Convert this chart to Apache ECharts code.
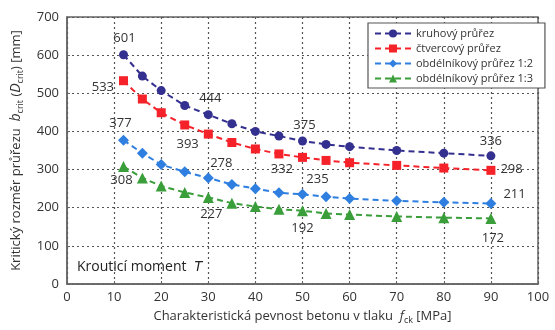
<!DOCTYPE html>
<html>
<head>
<meta charset="utf-8">
<script src="https://cdn.jsdelivr.net/npm/echarts@6/dist/echarts.min.js"></script>
<style>
  html, body { margin: 0; padding: 0; background: #fff; }
  #chart { width: 555px; height: 330px; }
</style>
</head>
<body>
<div id="chart"></div>
<script>
var fck = [12, 16, 20, 25, 30, 35, 40, 45, 50, 55, 60, 70, 80, 90];
var kruhovy = [601, 545, 507, 468, 444, 420, 400, 388, 375, 366, 360, 350, 343, 336];
var ctvercovy = [533, 485, 449, 417, 393, 371, 354, 341, 332, 324, 318, 311, 304, 298];
var obdelnik12 = [377, 343, 313, 294, 278, 261, 250, 239, 235, 229, 224, 218, 214, 211];
var obdelnik13 = [308, 278, 257, 240, 227, 212, 203, 196, 192, 185, 182, 177, 174, 172];
var nazvy = ['kruhový průřez', 'čtvercový průřez', 'obdélníkový průřez 1:2', 'obdélníkový průřez 1:3'];

var chartDom = document.getElementById('chart');
var myChart = echarts.init(chartDom);

// popisky jen u vybraných bodů (index -> pozice, posun)
var popisky = [
    { 0: ['top', [1, 0]], 4: ['top', [2, 0]], 8: ['top', [2, 0]], 13: ['top', [0, 1]] },
    { 0: ['left', [0, 7]], 4: ['left', [0, 10]], 8: ['left', [0, 12]], 13: ['right', [0, -1]] },
    { 0: ['top', [-3, 0]], 4: ['top', [13, 2]], 8: ['top', [15, 2]], 13: ['right', [2, -9]] },
    { 0: ['bottom', [-2, -3]], 4: ['bottom', [3, 0]], 8: ['bottom', [0, 1]], 13: ['bottom', [2, 3]] }
];

function makeData(vals, idx) {
    return vals.map(function (v, i) {
        var item = { value: [fck[i], v] };
        var p = popisky[idx][i];
        if (p) {
            item.label = {
                show: true,
                position: p[0],
                offset: p[1],
                formatter: String(v),
                fontSize: 13,
                color: '#333',
                fontFamily: 'Open Sans'
            };
        }
        return item;
    });
}

function serie(idx, vals, color, symbol, size) {
    return {
        name: nazvy[idx],
        type: 'line',
        data: makeData(vals, idx),
        symbol: symbol,
        symbolSize: size,
        itemStyle: { color: color },
        lineStyle: { color: color, width: 2, type: [6, 4] },
        label: { show: false },
        z: 3
    };
}

var option = {
    animation: false,
    textStyle: { fontFamily: 'Open Sans' },
    grid: {
        left: 67,
        right: 17,
        top: 17,
        bottom: 43,
        show: true,
        borderColor: '#666',
        borderWidth: 1.5
    },
    legend: {
        left: 368,
        top: 23,
        orient: 'vertical',
        data: nazvy,
        backgroundColor: '#fff',
        borderColor: '#555',
        borderWidth: 1.2,
        padding: [5, 12, 4, 6],
        itemGap: 4,
        itemWidth: 36,
        itemHeight: 10,
        textStyle: { fontSize: 11, color: '#333', fontFamily: 'Open Sans' }
    },
    xAxis: {
        type: 'value',
        min: 0,
        max: 100,
        interval: 10,
        name: 'Charakteristická pevnost betonu v tlaku  {i|f}{s|ck} [MPa]',
        nameLocation: 'middle',
        nameGap: 24,
        nameTextStyle: {
            fontSize: 13,
            color: '#333',
            rich: {
                i: { fontSize: 13, fontStyle: 'italic', color: '#333' },
                s: { fontSize: 9, color: '#333', padding: [8, 0, 0, 0] }
            }
        },
        axisLine: { show: true, lineStyle: { color: '#666', width: 1.5 } },
        axisTick: { show: true, inside: true, length: 3, lineStyle: { color: '#666' } },
        axisLabel: { fontSize: 13, color: '#333', margin: 7 },
        splitLine: { show: true, lineStyle: { color: '#555', type: [2, 3], width: 1.2 } }
    },
    yAxis: {
        type: 'value',
        min: 0,
        max: 700,
        interval: 100,
        name: 'Kritický rozměr průřezu  {i|b}{s|crit} ({i|D}{s|crit}) [mm]',
        nameLocation: 'middle',
        nameGap: 42,
        nameTextStyle: {
            fontSize: 13,
            color: '#333',
            rich: {
                i: { fontSize: 14, fontStyle: 'italic', color: '#333' },
                s: { fontSize: 9, color: '#333', padding: [8, 0, 0, 0] }
            }
        },
        axisLine: { show: true, lineStyle: { color: '#666', width: 1.5 } },
        axisTick: { show: true, inside: true, length: 3, lineStyle: { color: '#666' } },
        axisLabel: { fontSize: 13, color: '#333', margin: 8 },
        splitLine: { show: true, lineStyle: { color: '#555', type: [2, 3], width: 1.2 } }
    },
    graphic: [{
        type: 'text',
        left: 77,
        top: 260,
        style: {
            text: 'Krouticí moment  {i|T}',
            fontSize: 14,
            fill: '#222',
            fontFamily: 'Open Sans',
            rich: { i: { fontSize: 14, fontStyle: 'italic', fill: '#222' } }
        }
    }],
    series: [
        serie(0, kruhovy, '#34308f', 'circle', 9),
        serie(1, ctvercovy, '#f5222a', 'rect', 9),
        serie(2, obdelnik12, '#2f7fe0', 'diamond', 11),
        serie(3, obdelnik13, '#3a9e3a', 'triangle', 11)
    ]
};

option && myChart.setOption(option);
new ResizeObserver(() => myChart.resize()).observe(chartDom);
</script>
</body>
</html>
